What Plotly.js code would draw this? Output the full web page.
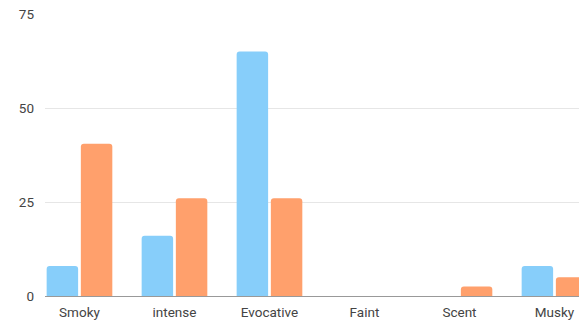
<!DOCTYPE html>
<html>
<head>
<meta charset="utf-8">
<script src="https://cdn.plot.ly/plotly-3.0.1.min.js"></script>
<style>html,body{margin:0;padding:0;background:#fff;}#chart{width:579px;height:325px;}</style>
</head>
<body>
<div id="chart"></div>
<script>
var categories = ["Smoky", "intense", "Evocative", "Faint", "Scent", "Musky"];
var seriesA = [8, 16, 65, 0, 0, 8];
var seriesB = [40.5, 26, 26, 0, 2.5, 5];
var yTicks = [0, 25, 50, 75];

var traces = [
  {type: "bar", x: categories, y: seriesA, name: "A",
   marker: {color: "#87CEFA", cornerradius: 3}},
  {type: "bar", x: categories, y: seriesB, name: "B",
   marker: {color: "#FFA06C", cornerradius: 3}}
];
var layout = {
  width: 579, height: 325,
  margin: {l: 45, r: 0, t: 14, b: 29},
  showlegend: false,
  bargap: 0.28, bargroupgap: 0.08,
  paper_bgcolor: "#fff", plot_bgcolor: "#fff",
  font: {family: "Roboto, sans-serif", size: 13, color: "#444"},
  xaxis: {range: [-0.363, 5.258], showgrid: false, showline: false, zeroline: false,
          ticks: "", ticklabelstandoff: 6, tickfont: {size: 13.5, color: "#444"}},
  yaxis: {range: [0, 75], tickvals: yTicks, ticktext: yTicks.map(String),
          showgrid: true, gridcolor: "#e6e6e6", gridwidth: 1,
          zeroline: true, zerolinecolor: "#999", zerolinewidth: 1,
          ticks: "", ticklabelstandoff: 10, tickfont: {size: 13.5, color: "#444"}}
};
Plotly.newPlot("chart", traces, layout, {displayModeBar: false, staticPlot: true});
</script>
</body>
</html>
